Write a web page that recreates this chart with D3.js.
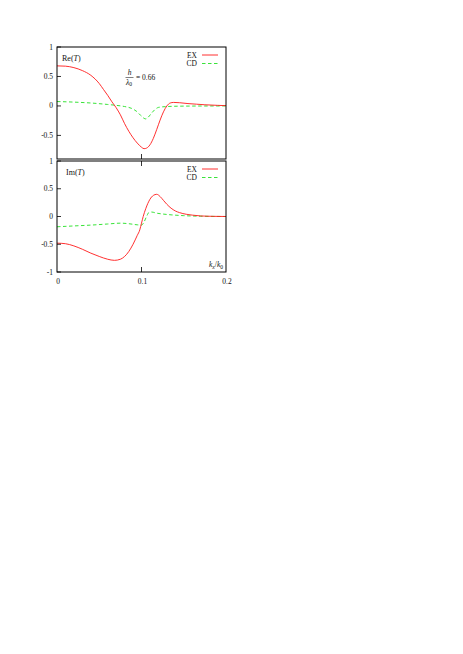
<!DOCTYPE html>
<html>
<head>
<meta charset="utf-8">
<script src="https://cdn.jsdelivr.net/npm/d3@7"></script>
<style>
  body { margin: 0; background: #fff; }
  svg { opacity: 0.999; }
  svg text { font-family: "Liberation Serif", "DejaVu Serif", serif; fill: #111; }
</style>
</head>
<body>
<div id="chart"></div>
<script>
// values (kx/k0 -> T)
var reEX_k = [0, 0.01, 0.02, 0.03, 0.04, 0.05, 0.055, 0.06, 0.065, 0.07, 0.075, 0.08, 0.085, 0.09, 0.095, 0.1, 0.103, 0.106, 0.11, 0.114, 0.118, 0.122, 0.126, 0.13, 0.134, 0.138, 0.145, 0.155, 0.165, 0.175, 0.19, 0.2];
var reEX_v = [0.68, 0.675, 0.65, 0.6, 0.52, 0.38, 0.28, 0.18, 0.07, -0.03, -0.15, -0.3, -0.43, -0.54, -0.63, -0.70, -0.725, -0.715, -0.66, -0.55, -0.40, -0.24, -0.1, 0.0, 0.05, 0.06, 0.055, 0.04, 0.03, 0.02, 0.01, 0.005];

var reCD_k = [0, 0.02, 0.04, 0.06, 0.07, 0.08, 0.088, 0.094, 0.099, 0.103, 0.105, 0.108, 0.112, 0.116, 0.12, 0.13, 0.15, 0.2];
var reCD_v = [0.075, 0.065, 0.05, 0.025, 0.01, -0.01, -0.04, -0.09, -0.16, -0.21, -0.22, -0.19, -0.12, -0.06, -0.025, -0.01, -0.003, 0];

var imEX_k = [0, 0.01, 0.02, 0.03, 0.04, 0.05, 0.06, 0.068, 0.075, 0.08, 0.085, 0.09, 0.095, 0.098, 0.1, 0.102, 0.105, 0.11, 0.114, 0.118, 0.122, 0.126, 0.13, 0.135, 0.14, 0.145, 0.153, 0.16, 0.17, 0.185, 0.2];
var imEX_v = [-0.48, -0.49, -0.53, -0.59, -0.66, -0.72, -0.77, -0.79, -0.77, -0.72, -0.63, -0.5, -0.34, -0.24, -0.12, 0, 0.14, 0.31, 0.38, 0.40, 0.36, 0.29, 0.22, 0.15, 0.10, 0.07, 0.04, 0.025, 0.01, 0.003, 0];

var imCD_k = [0, 0.02, 0.04, 0.06, 0.075, 0.085, 0.095, 0.1, 0.103, 0.106, 0.109, 0.112, 0.118, 0.125, 0.135, 0.15, 0.17, 0.2];
var imCD_v = [-0.185, -0.17, -0.155, -0.135, -0.12, -0.13, -0.15, -0.155, -0.1, 0.0, 0.075, 0.08, 0.06, 0.045, 0.03, 0.015, 0.005, 0];

var xTicks = [0, 0.1, 0.2];
var yTicks = [-1, -0.5, 0, 0.5, 1];
var legendNames = ["EX", "CD"];

const width = 463, height = 654;
const left = 57, right = 226;

var svg = d3.select("#chart").append("svg")
    .attr("width", width)
    .attr("height", height);

var x = d3.scaleLinear().domain([0, 0.2]).range([left, right]);

function zip(ks, vs) {
  return ks.map(function(k, i) { return {k: k, v: vs[i]}; });
}

function drawPanel(top, bottom, domain, ex, cd, labelMain, showXLabels) {
  var y = d3.scaleLinear().domain(domain).range([bottom, top]);
  var g = svg.append("g");

  var line = d3.line()
      .x(function(d) { return x(d.k); })
      .y(function(d) { return y(d.v); })
      .curve(d3.curveMonotoneX);

  g.append("path")
      .attr("d", line(cd))
      .attr("fill", "none")
      .attr("stroke", "#22e022")
      .attr("stroke-width", 0.9)
      .attr("stroke-dasharray", "3.5,2.5");

  g.append("path")
      .attr("d", line(ex))
      .attr("fill", "none")
      .attr("stroke", "#ff1a1a")
      .attr("stroke-width", 0.9);

  // frame
  g.append("rect")
      .attr("x", left).attr("y", top)
      .attr("width", right - left).attr("height", bottom - top)
      .attr("fill", "none")
      .attr("stroke", "#000")
      .attr("stroke-width", 1);

  // y ticks, inward on the left only
  yTicks.filter(function(t) { return t >= domain[0]; }).forEach(function(t) {
    g.append("line")
        .attr("x1", left).attr("x2", left + 4)
        .attr("y1", y(t)).attr("y2", y(t))
        .attr("stroke", "#000").attr("stroke-width", 0.8);
    g.append("text")
        .attr("x", 53).attr("y", y(t) + 2.5)
        .attr("text-anchor", "end")
        .attr("font-size", 7.5)
        .text(t);
  });

  // x tick at 0.1
  g.append("line")
      .attr("x1", x(0.1)).attr("x2", x(0.1))
      .attr("y1", bottom).attr("y2", bottom - 5)
      .attr("stroke", "#000").attr("stroke-width", 0.8);
  if (showXLabels) {
    g.append("line")
        .attr("x1", x(0.1)).attr("x2", x(0.1))
        .attr("y1", top).attr("y2", top + 5)
        .attr("stroke", "#000").attr("stroke-width", 0.8);
    xTicks.forEach(function(t) {
      g.append("text")
          .attr("x", x(t) + 1).attr("y", bottom + 12)
          .attr("text-anchor", "middle")
          .attr("font-size", 7.5)
          .text(t);
    });
    var xl = g.append("text")
        .attr("x", 223).attr("y", bottom - 5)
        .attr("text-anchor", "end")
        .attr("font-size", 7.5);
    xl.append("tspan").attr("font-style", "italic").text("k");
    xl.append("tspan").attr("font-style", "italic").attr("font-size", 5.5).attr("dy", 1.5).text("x");
    xl.append("tspan").attr("dy", -1.5).text("/");
    xl.append("tspan").attr("font-style", "italic").text("k");
    xl.append("tspan").attr("font-size", 5.5).attr("dy", 1.5).text("0");
  }

  // panel label
  var lab = g.append("text")
      .attr("x", labelMain.x).attr("y", top + 14)
      .attr("font-size", 8);
  lab.append("tspan").text(labelMain.name + "(");
  lab.append("tspan").attr("font-style", "italic").text("T");
  lab.append("tspan").text(")");

  // legend
  var colors = ["#ff1a1a", "#22e022"];
  var dash = [null, "3.5,2.5"];
  legendNames.forEach(function(n, i) {
    var ly = top + 8 + i * 8.5;
    g.append("text")
        .attr("x", 197).attr("y", ly + 2.5)
        .attr("text-anchor", "end")
        .attr("font-size", 7.5)
        .text(n);
    g.append("line")
        .attr("x1", 202).attr("x2", 218)
        .attr("y1", ly).attr("y2", ly)
        .attr("stroke", colors[i])
        .attr("stroke-width", 0.9)
        .attr("stroke-dasharray", dash[i]);
  });

  return y;
}

drawPanel(47, 159, [-0.9, 1], zip(reEX_k, reEX_v), zip(reCD_k, reCD_v), {name: "Re", x: 62}, false);
drawPanel(161, 272, [-1, 1], zip(imEX_k, imEX_v), zip(imCD_k, imCD_v), {name: "Im", x: 66}, true);

// h / lambda0 = 0.66 annotation
var ann = svg.append("g").attr("font-size", 7.5);
ann.append("text").attr("x", 129.5).attr("y", 75).attr("text-anchor", "middle")
    .attr("font-style", "italic").text("h");
ann.append("line").attr("x1", 125.5).attr("x2", 133.5).attr("y1", 77.5).attr("y2", 77.5)
    .attr("stroke", "#000").attr("stroke-width", 0.5);
var lam = ann.append("text").attr("x", 126).attr("y", 84.5);
lam.append("tspan").attr("font-style", "italic").text("λ");
lam.append("tspan").attr("font-size", 5.5).attr("dy", 1.5).text("0");
ann.append("text").attr("x", 136).attr("y", 80).text("= 0.66");
</script>
</body>
</html>
